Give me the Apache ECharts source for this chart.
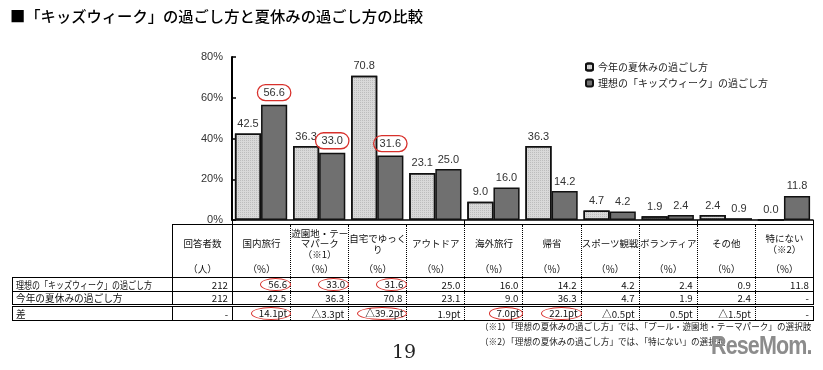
<!DOCTYPE html>
<html><head><meta charset="utf-8">
<script src="https://cdn.jsdelivr.net/npm/echarts@6/dist/echarts.min.js"></script>
<style>
html,body{margin:0;padding:0;background:#fff;}
#wrap{position:relative;width:823px;height:370px;overflow:hidden;font-family:"Noto Sans CJK JP",sans-serif;color:#1a1a1a;}
#chart{position:absolute;left:0;top:0;width:823px;height:370px;}
#title{position:absolute;left:10px;top:4px;font-size:15.3px;line-height:22px;white-space:nowrap;color:#000;font-weight:500;}
#tbl{position:absolute;left:12px;top:224px;width:801px;border-collapse:collapse;table-layout:fixed;font-size:9.7px;color:#111;}
#tbl td{padding:0 4px;white-space:nowrap;overflow:visible;box-sizing:border-box;}
#tbl td.hd{vertical-align:top;padding:0;text-align:center;}
#tbl .nm{height:37px;display:flex;align-items:center;justify-content:center;line-height:10.5px;text-align:center;font-size:9.5px;}
#tbl .un{height:15px;line-height:15px;}
#tbl tr.r td{height:14px;line-height:12px;text-align:right;}
#tbl tr.r td.lb{text-align:left;padding-left:3px;}
.lbt{display:inline-block;transform-origin:left center;}
.ov{display:inline-block;border:1.3px solid #d8312c;border-radius:50%;padding:0 3px 0 7px;margin-right:-5px;line-height:11px;}
#fn{position:absolute;left:480px;top:319px;font-size:8.6px;line-height:15px;color:#222;white-space:nowrap;}
#pg{position:absolute;left:392px;top:340px;font-family:"DejaVu Serif","Liberation Serif",serif;font-size:19px;color:#222;}
#logo{position:absolute;left:711px;top:331px;font-family:"Liberation Sans",Arial,sans-serif;font-weight:bold;font-size:25px;color:#8c8c8c;letter-spacing:-1px;transform:scaleX(0.86);transform-origin:left top;}
</style></head>
<body><div id="wrap">
<div id="chart"></div>
<div id="title">■「キッズウィーク」の過ごし方と夏休みの過ごし方の比較</div>
<table id="tbl"></table>
<div id="fn">（※1）「理想の夏休みの過ごし方」では、「プール・遊園地・テーマパーク」の選択肢<br>（※2）「理想の夏休みの過ごし方」では、「特にない」の選択肢</div>
<div id="pg">19</div>
<div id="logo">ReseMom.</div>
</div>
<script>
// ---- data ----
const categories = ['国内旅行','遊園地・テーマパーク（※1）','自宅でゆっくり','アウトドア','海外旅行','帰省','スポーツ観戦','ボランティア','その他','特にない（※2）'];
const headerLabels = ['国内旅行','遊園地・テー\nマパーク\n（※1）','自宅でゆっく\nり','アウトドア','海外旅行','帰省','スポーツ観戦','ボランティア','その他','特にない\n（※2）'];
const seriesNowName = '今年の夏休みの過ごし方';
const seriesIdealName = '理想の「キッズウィーク」の過ごし方';
const nowValues = [42.5, 36.3, 70.8, 23.1, 9.0, 36.3, 4.7, 1.9, 2.4, 0.0];
const idealValues = [56.6, 33.0, 31.6, 25.0, 16.0, 14.2, 4.2, 2.4, 0.9, 11.8];
const notAskedInSummer = [false,false,false,false,false,false,false,false,false,true];
const diffText = ['14.1pt','△3.3pt','△39.2pt','1.9pt','7.0pt','22.1pt','△0.5pt','0.5pt','△1.5pt','-'];
const respondents = ['212','212','-'];
const circledIdeal = [0,1,2];
const circledDiff = [0,2,4,5];
const yTicks = [0,20,40,60,80];

// ---- chart ----
const chart = echarts.init(document.getElementById('chart'));
const labelBase = {show:true, position:'top', distance:4, fontSize:11, color:'#333', fontFamily:'Liberation Sans, Arial, sans-serif'};
chart.setOption({
  animation:false,
  grid:{left:232,right:10,top:57,bottom:150},
  legend:{orient:'vertical', left:580, top:57, itemWidth:7, itemHeight:7, itemGap:6,
    textStyle:{fontSize:10,color:'#222',fontFamily:'Noto Sans CJK JP'}, data:[seriesNowName, seriesIdealName]},
  xAxis:{type:'category', data:categories,
    axisLine:{lineStyle:{color:'#000',width:1.5}},
    axisTick:{show:true,length:4,lineStyle:{color:'#000'}},
    axisLabel:{show:false}},
  yAxis:{type:'value', min:yTicks[0], max:yTicks[yTicks.length-1], interval:yTicks[1]-yTicks[0],
    axisLine:{show:true,lineStyle:{color:'#000',width:2}},
    axisTick:{show:true,inside:true,length:4,lineStyle:{color:'#000',width:1.5}},
    splitLine:{show:false},
    axisLabel:{formatter:'{value}%',fontSize:11,color:'#333',margin:9,fontFamily:'Liberation Sans, Arial, sans-serif'}},
  series:[
    {name:seriesNowName, type:'bar', data:nowValues, barGap:'0%', barCategoryGap:'10%',
     itemStyle:{color:'#d9d9d9', borderColor:'#111', borderWidth:1.5,
       decal:{symbol:'rect', symbolSize:1, color:'rgba(0,0,0,0.13)', dashArrayX:[1,1], dashArrayY:[1,1]}},
     label:Object.assign({}, labelBase, {formatter:p=>p.value.toFixed(1)})},
    {name:seriesIdealName, type:'bar', data:idealValues,
     itemStyle:{color:'#707070', borderColor:'#111', borderWidth:1.5},
     label:Object.assign({}, labelBase, {
       formatter:p=> circledIdeal.includes(p.dataIndex) ? '{c|'+p.value.toFixed(1)+'}' : p.value.toFixed(1),
       rich:{c:{borderColor:'#d8312c',borderWidth:1.3,borderRadius:9,padding:[3,6,2,6],fontSize:11,color:'#333',fontFamily:'Liberation Sans, Arial, sans-serif'}}})}
  ]
});

// ---- table ----
const tbl = document.getElementById('tbl');
const catW = (813-232)/categories.length;
let html = '<colgroup><col style="width:160px"><col style="width:60px">' + categories.map(()=>'<col style="width:'+catW+'px">').join('') + '</colgroup>';
const vb = (i)=> i===0 ? '1px solid #000' : '1px dotted #000';
// header
html += '<tr><td class="hd" style="border:none"></td>';
html += '<td class="hd" style="border:1px solid #000"><div class="nm">回答者数</div><div class="un">（人）</div></td>';
headerLabels.forEach((h,i)=>{
  html += '<td class="hd" style="border-top:1px solid #000;border-left:'+vb(i)+';border-right:'+(i===categories.length-1?'1px solid #000':'none')+'"><div class="nm">'+h.replace(/\n/g,'<br>')+'</div><div class="un">（%）</div></td>';
});
html += '</tr>';
function row(label, resp, cells, circled, extraStyle){
  let s = '<tr class="r"><td class="lb" style="border:1px solid #000;'+(extraStyle||'')+'"><span class="lbt">'+label+'</span></td>';
  s += '<td style="border:1px solid #000;'+(extraStyle||'')+'">'+resp+'</td>';
  cells.forEach((c,i)=>{
    const txt = circled.includes(i) ? '<span class="ov">'+c+'</span>' : c;
    s += '<td style="border-top:1px solid #000;border-bottom:1px solid #000;border-left:'+vb(i)+';border-right:'+(i===cells.length-1?'1px solid #000':'none')+';'+(extraStyle||'')+'">'+txt+'</td>';
  });
  return s + '</tr>';
}
html += row(seriesIdealName, respondents[0], idealValues.map(v=>v.toFixed(1)), circledIdeal);
html += row(seriesNowName, respondents[1], nowValues.map((v,i)=>notAskedInSummer[i]?'-':v.toFixed(1)), []);
html += row('差', respondents[2], diffText, circledDiff, 'border-top:3px double #000;');
tbl.innerHTML = html;
// keep long row labels inside their column
document.querySelectorAll('.lbt').forEach(el=>{
  const w = el.getBoundingClientRect().width;
  if (w > 136) el.style.transform = 'scaleX(' + (136/w) + ')';
});
</script>
</body></html>
